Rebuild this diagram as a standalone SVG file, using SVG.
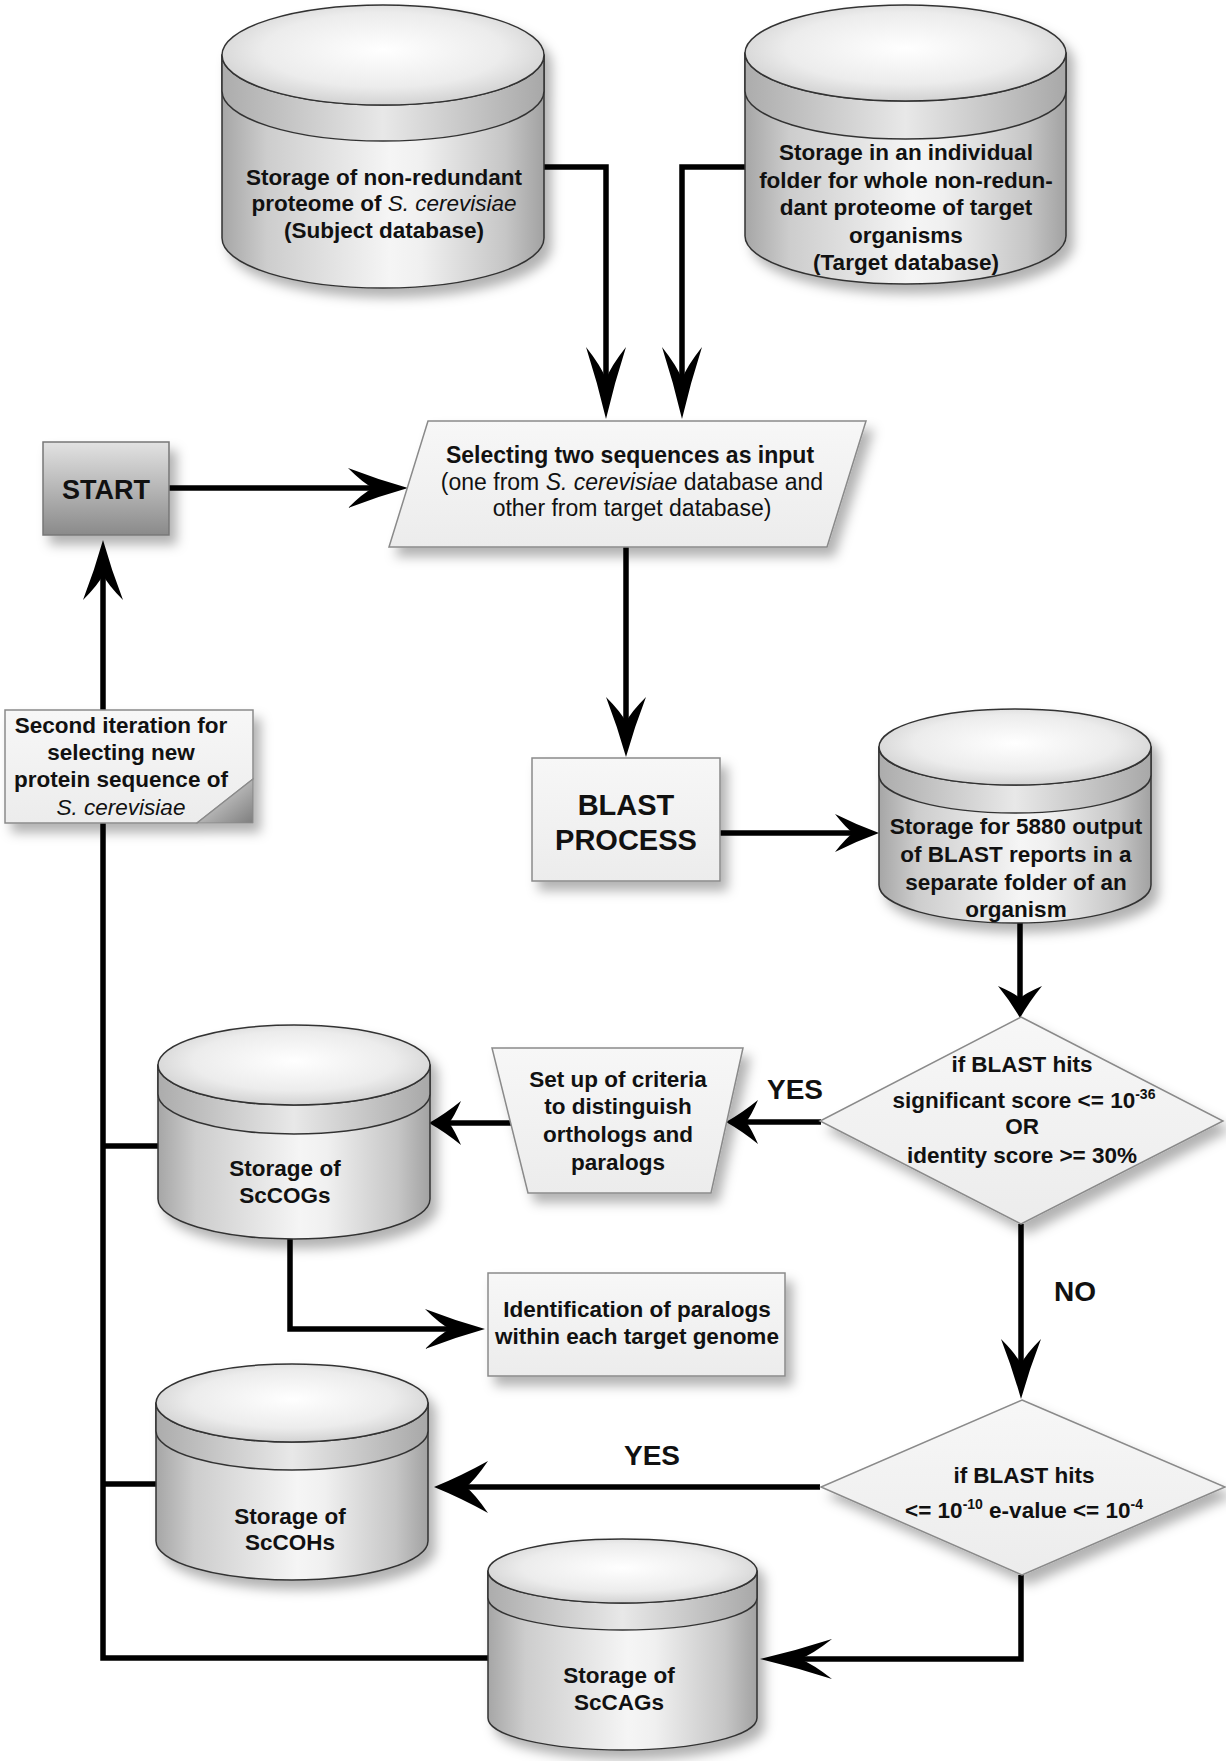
<svg xmlns="http://www.w3.org/2000/svg" width="1226" height="1761" viewBox="0 0 1226 1761">
<style>
.t{font-family:"Liberation Sans",Arial,sans-serif;font-weight:bold;font-size:22.5px;text-anchor:middle;fill:#111}
.it{font-style:italic;font-weight:normal}
.reg{font-weight:normal}
.big{font-size:28px}
.sup{font-size:14px}
.cs{stroke:#333;stroke-width:1.5}
.box{stroke:#8a8a8a;stroke-width:1.5;fill:url(#gBox)}
.ln{fill:none;stroke:#000;stroke-width:5.5}
.ah{fill:#000}
</style>
<defs>
<filter id="sh" x="-20%" y="-20%" width="150%" height="150%">
<feDropShadow dx="7" dy="9" stdDeviation="6" flood-color="#000" flood-opacity="0.3"/>
</filter>
<linearGradient id="gBody" x1="0" y1="0" x2="1" y2="0">
<stop offset="0" stop-color="#a6a6a6"/><stop offset="0.14" stop-color="#cdcdcd"/><stop offset="0.52" stop-color="#f5f5f5"/><stop offset="0.62" stop-color="#f0f0f0"/><stop offset="0.88" stop-color="#c6c6c6"/><stop offset="1" stop-color="#a2a2a2"/>
</linearGradient>
<linearGradient id="gBand" x1="0" y1="0" x2="1" y2="0">
<stop offset="0" stop-color="#acacac"/><stop offset="0.5" stop-color="#e8e8e8"/><stop offset="1" stop-color="#a8a8a8"/>
</linearGradient>
<radialGradient id="gTop" cx="0.5" cy="0.45" r="0.62">
<stop offset="0" stop-color="#ffffff"/><stop offset="0.6" stop-color="#ececec"/><stop offset="1" stop-color="#c8c8c8"/>
</radialGradient>
<linearGradient id="gBox" x1="0" y1="0" x2="0" y2="1">
<stop offset="0" stop-color="#f7f7f7"/><stop offset="1" stop-color="#ececec"/>
</linearGradient>
<linearGradient id="gStart" x1="0" y1="0" x2="0" y2="1">
<stop offset="0" stop-color="#e2e2e2"/><stop offset="1" stop-color="#8a8a8a"/>
</linearGradient>
<linearGradient id="gFold" x1="0" y1="0" x2="1" y2="1">
<stop offset="0" stop-color="#e8e8e8"/><stop offset="1" stop-color="#7e7e7e"/>
</linearGradient>
<marker id="mLong" markerUnits="userSpaceOnUse" viewBox="0 -20 72 40" markerWidth="72" markerHeight="40" refX="32" refY="0" orient="auto">
<path class="ah" d="M72,0 Q36,-8.4 0,-20 Q19,-5 32,0 Q19,5 0,20 Q36,8.4 72,0 Z"/>
</marker>
<marker id="mMed" markerUnits="userSpaceOnUse" viewBox="0 -20 60 40" markerWidth="60" markerHeight="40" refX="25" refY="0" orient="auto">
<path class="ah" d="M60,0 Q30,-8.4 0,-20 Q15,-5 25,0 Q15,5 0,20 Q30,8.4 60,0 Z"/>
</marker>
<marker id="mShort" markerUnits="userSpaceOnUse" viewBox="0 -19 44 38" markerWidth="44" markerHeight="38" refX="18" refY="0" orient="auto">
<path class="ah" d="M44,0 Q22,-8 0,-19 Q11,-5 18,0 Q11,5 0,19 Q22,8 44,0 Z"/>
</marker>
<marker id="mStub" markerUnits="userSpaceOnUse" viewBox="0 -22 32 44" markerWidth="32" markerHeight="44" refX="12" refY="0" orient="auto">
<path class="ah" d="M32,0 Q16,-9 0,-22 Q7,-6 12,0 Q7,6 0,22 Q16,9 32,0 Z"/>
</marker>
<marker id="mWide" markerUnits="userSpaceOnUse" viewBox="0 -26 54 52" markerWidth="54" markerHeight="52" refX="22" refY="0" orient="auto">
<path class="ah" d="M54,0 Q27,-11 0,-26 Q13,-7 22,0 Q13,7 0,26 Q27,11 54,0 Z"/>
</marker>
</defs>
<rect width="1226" height="1761" fill="#fff"/>

<g id="connectors">
<path class="ln" d="M544,167 H606 V379" marker-end="url(#mLong)"/>
<path class="ln" d="M745,167 H682 V379" marker-end="url(#mLong)"/>
<path class="ln" d="M169,488 H373" marker-end="url(#mMed)"/>
<path class="ln" d="M626,547 V722" marker-end="url(#mMed)"/>
<path class="ln" d="M720,833 H853" marker-end="url(#mShort)"/>
<path class="ln" d="M1020,923 V998" marker-end="url(#mStub)"/>
<path class="ln" d="M821,1122 H746" marker-end="url(#mStub)"/>
<path class="ln" d="M511,1123 H449" marker-end="url(#mStub)"/>
<path class="ln" d="M290,1239 V1329 H450" marker-end="url(#mMed)"/>
<path class="ln" d="M1021,1224 V1364" marker-end="url(#mMed)"/>
<path class="ln" d="M820,1487 H466" marker-end="url(#mWide)"/>
<path class="ln" d="M1021,1575 V1659 H800" marker-end="url(#mLong)"/>
<path class="ln" d="M488,1658 H103 V575" marker-end="url(#mMed)"/>
<path class="ln" d="M158,1146 H103"/>
<path class="ln" d="M156,1484 H103"/>
</g>

<g id="subject-db">
<g filter="url(#sh)">
<path class="cs" fill="url(#gBody)" d="M222,55 V238 A161,50 0 0 0 544,238 V55 Z"/>
<path class="cs" fill="url(#gBand)" d="M222,55 A161,50 0 0 0 544,55 V91 A161,50 0 0 1 222,91 Z"/>
<ellipse class="cs" fill="url(#gTop)" cx="383" cy="55" rx="161" ry="50"/>
</g>
<text class="t" x="384" y="185">Storage of non-redundant</text>
<text class="t" x="384" y="211">proteome of <tspan class="it">S. cerevisiae</tspan></text>
<text class="t" x="384" y="238">(Subject database)</text>
</g>

<g id="target-db">
<g filter="url(#sh)">
<path class="cs" fill="url(#gBody)" d="M745,53 V236 A160.5,48 0 0 0 1066,236 V53 Z"/>
<path class="cs" fill="url(#gBand)" d="M745,53 A160.5,48 0 0 0 1066,53 V91 A160.5,48 0 0 1 745,91 Z"/>
<ellipse class="cs" fill="url(#gTop)" cx="905.5" cy="53" rx="160.5" ry="48"/>
</g>
<text class="t" x="906" y="160">Storage in an individual</text>
<text class="t" x="906" y="188">folder for whole non-redun-</text>
<text class="t" x="906" y="215">dant proteome of target</text>
<text class="t" x="906" y="243">organisms</text>
<text class="t" x="906" y="270">(Target database)</text>
</g>

<g id="start">
<rect x="43" y="442" width="126" height="93" fill="url(#gStart)" stroke="#777" stroke-width="1.5" filter="url(#sh)"/>
<text class="t" x="106" y="499" style="font-size:27px">START</text>
</g>

<g id="select-input">
<polygon class="box" points="428,421 866,421 827,547 389,547" filter="url(#sh)"/>
<text class="t" x="630" y="463" style="font-size:23px">Selecting two sequences as input</text>
<text class="t reg" x="632" y="490" style="font-size:23px">(one from <tspan class="it">S. cerevisiae</tspan> database and</text>
<text class="t reg" x="632" y="516" style="font-size:23px">other from target database)</text>
</g>

<g id="second-iteration">
<g filter="url(#sh)">
<path class="box" d="M5,710 H253 V779 L197,823 H5 Z"/>
<path d="M253,779 L253,823 L197,823 Z" fill="url(#gFold)" stroke="#8a8a8a" stroke-width="1.2"/>
</g>
<text class="t" x="121" y="733">Second iteration for</text>
<text class="t" x="121" y="760">selecting new</text>
<text class="t" x="121" y="787">protein sequence of</text>
<text class="t it" x="121" y="815">S. cerevisiae</text>
</g>

<g id="blast-process">
<rect class="box" x="532" y="758" width="188" height="123" filter="url(#sh)"/>
<text class="t" x="626" y="815" style="font-size:29px">BLAST</text>
<text class="t" x="626" y="850" style="font-size:29px">PROCESS</text>
</g>

<g id="blast-reports">
<g filter="url(#sh)">
<path class="cs" fill="url(#gBody)" d="M879,747 V885 A136,38 0 0 0 1151,885 V747 Z"/>
<path class="cs" fill="url(#gBand)" d="M879,747 A136,38 0 0 0 1151,747 V775 A136,38 0 0 1 879,775 Z"/>
<ellipse class="cs" fill="url(#gTop)" cx="1015" cy="747" rx="136" ry="38"/>
</g>
<text class="t" x="1016" y="834">Storage for 5880 output</text>
<text class="t" x="1016" y="862">of BLAST reports in a</text>
<text class="t" x="1016" y="890">separate folder of an</text>
<text class="t" x="1016" y="917">organism</text>
</g>

<g id="decision-1">
<polygon class="box" points="1021,1017 1223,1121 1021,1224 820,1121" filter="url(#sh)"/>
<text class="t" x="1022" y="1072">if BLAST hits</text>
<text class="t" x="1024" y="1108">significant score &lt;= 10<tspan class="sup" dy="-9">-36</tspan></text>
<text class="t" x="1022" y="1134">OR</text>
<text class="t" x="1022" y="1163">identity score &gt;= 30%</text>
</g>

<g id="criteria">
<polygon class="box" points="492,1048 743,1048 711,1193 528,1193" filter="url(#sh)"/>
<text class="t" x="618" y="1087">Set up of criteria</text>
<text class="t" x="618" y="1114">to distinguish</text>
<text class="t" x="618" y="1142">orthologs and</text>
<text class="t" x="618" y="1170">paralogs</text>
</g>

<g id="sccogs">
<g filter="url(#sh)">
<path class="cs" fill="url(#gBody)" d="M158,1065 V1199 A136,40 0 0 0 430,1199 V1065 Z"/>
<path class="cs" fill="url(#gBand)" d="M158,1065 A136,40 0 0 0 430,1065 V1094 A136,40 0 0 1 158,1094 Z"/>
<ellipse class="cs" fill="url(#gTop)" cx="294" cy="1065" rx="136" ry="40"/>
</g>
<text class="t" x="285" y="1176">Storage of</text>
<text class="t" x="285" y="1203">ScCOGs</text>
</g>

<g id="paralogs">
<rect class="box" x="488" y="1273" width="297" height="103" filter="url(#sh)"/>
<text class="t" x="637" y="1317">Identification of paralogs</text>
<text class="t" x="637" y="1344">within each target genome</text>
</g>

<g id="decision-2">
<polygon class="box" points="1022,1400 1225,1487 1022,1575 821,1487" filter="url(#sh)"/>
<text class="t" x="1024" y="1483">if BLAST hits</text>
<text class="t" x="1024" y="1518">&lt;= 10<tspan class="sup" dy="-9">-10</tspan><tspan dy="9"> e-value &lt;= 10</tspan><tspan class="sup" dy="-9">-4</tspan></text>
</g>

<g id="sccohs">
<g filter="url(#sh)">
<path class="cs" fill="url(#gBody)" d="M156,1403 V1541 A136,39 0 0 0 428,1541 V1403 Z"/>
<path class="cs" fill="url(#gBand)" d="M156,1403 A136,39 0 0 0 428,1403 V1431 A136,39 0 0 1 156,1431 Z"/>
<ellipse class="cs" fill="url(#gTop)" cx="292" cy="1403" rx="136" ry="39"/>
</g>
<text class="t" x="290" y="1524">Storage of</text>
<text class="t" x="290" y="1550">ScCOHs</text>
</g>

<g id="sccags">
<g filter="url(#sh)">
<path class="cs" fill="url(#gBody)" d="M488,1571 V1718 A134.5,32 0 0 0 757,1718 V1571 Z"/>
<path class="cs" fill="url(#gBand)" d="M488,1571 A134.5,32 0 0 0 757,1571 V1598 A134.5,32 0 0 1 488,1598 Z"/>
<ellipse class="cs" fill="url(#gTop)" cx="622.5" cy="1571" rx="134.5" ry="32"/>
</g>
<text class="t" x="619" y="1683">Storage of</text>
<text class="t" x="619" y="1710">ScCAGs</text>
</g>

<g id="labels">
<text class="t big" x="795" y="1099">YES</text>
<text class="t big" x="1075" y="1301">NO</text>
<text class="t big" x="652" y="1465">YES</text>
</g>
</svg>
